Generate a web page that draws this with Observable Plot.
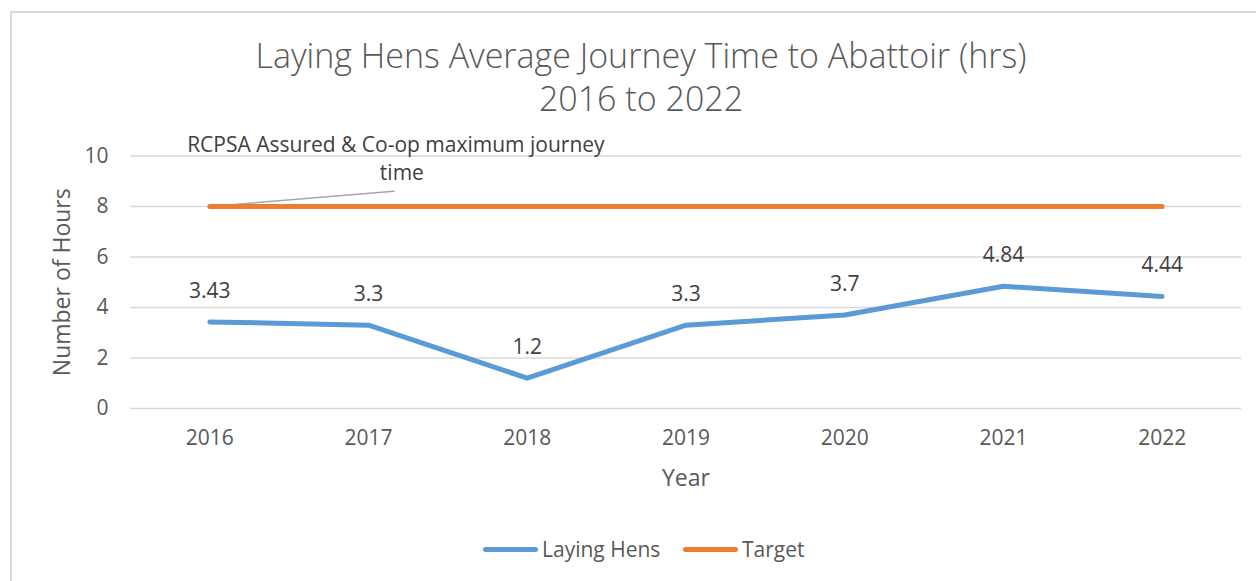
<!DOCTYPE html>
<html>
<head>
<meta charset="utf-8">
<script src="https://cdn.jsdelivr.net/npm/d3@7"></script>
<script src="https://cdn.jsdelivr.net/npm/@observablehq/plot@0.6"></script>
<style>
  html, body { margin: 0; padding: 0; background: #fff; }
  #wrap { position: relative; width: 1256px; height: 581px; overflow: hidden; font-family: "Open Sans", sans-serif; }
  #frame { position: absolute; left: 10px; top: 11px; width: 1260px; height: 590px; border: 2px solid #d9d9d9; box-sizing: border-box; }
  #chart { position: absolute; left: 0; top: 0; }
  .title { position: absolute; left: 0; width: 1282px; text-align: center; font-size: 34px; font-weight: 300; color: #595959; line-height: 1; }
  #legend { position: absolute; top: 535px; left: 0; width: 1256px; font-size: 21px; color: #595959; }
  .item { position: absolute; display: flex; align-items: center; }
  .swatch { width: 55px; height: 5px; border-radius: 3px; margin-right: 4px; }
</style>
</head>
<body>
<div id="wrap">
  <div id="frame"></div>
  <div id="chart"></div>
  <div class="title" id="t1" style="top:38px"></div>
  <div class="title" id="t2" style="top:81px"></div>
  <div id="legend"></div>
</div>
<script>
const titleLines = ["Laying Hens Average Journey Time to Abattoir (hrs)", "2016 to 2022"];
const years = [2016, 2017, 2018, 2019, 2020, 2021, 2022];
const layingHens = [3.43, 3.3, 1.2, 3.3, 3.7, 4.84, 4.44];
const target = [8, 8, 8, 8, 8, 8, 8];
const yTicks = [0, 2, 4, 6, 8, 10];
const seriesNames = ["Laying Hens", "Target"];
const seriesColors = ["#5B9BD5", "#ED7D31"];
const annotationLines = ["RCPSA Assured & Co-op maximum journey", "time"];
const leader = [{x: 2016, y: 8}, {x: 2017.16, y: 8.6}];
const xLabel = "Year";
const yLabel = "Number of Hours";

document.getElementById("t1").textContent = titleLines[0];
document.getElementById("t2").textContent = titleLines[1];

const hens = years.map((yr, i) => ({year: yr, value: layingHens[i]}));
const tgt = years.map((yr, i) => ({year: yr, value: target[i]}));

const chart = Plot.plot({
  width: 1256,
  height: 581,
  marginLeft: 130,
  marginRight: 15,
  marginTop: 155.5,
  marginBottom: 173,
  style: {fontFamily: "'Open Sans', sans-serif", fontSize: "21px", color: "#595959", background: "transparent"},
  x: {domain: [2015.5, 2022.5], label: null},
  y: {domain: [0, 10], label: null},
  marks: [
    Plot.ruleY(yTicks, {stroke: "#d9d9d9", strokeWidth: 1.5}),
    Plot.axisX({ticks: years, tickFormat: d => String(d), tickSize: 0, tickPadding: 22, label: null, fill: "#595959", fontSize: 21}),
    Plot.axisY({ticks: yTicks, tickSize: 0, tickPadding: 22, label: null, fill: "#595959", fontSize: 21}),
    Plot.line(leader, {x: "x", y: "y", stroke: "#a6a6a6", strokeWidth: 1.5}),
    Plot.line(tgt, {x: "year", y: "value", stroke: seriesColors[1], strokeWidth: 5, strokeLinecap: "round"}),
    Plot.line(hens, {x: "year", y: "value", stroke: seriesColors[0], strokeWidth: 5, strokeLinecap: "round", strokeLinejoin: "round"}),
    Plot.text(hens, {x: "year", y: "value", text: d => String(d.value), dy: -31, fill: "#404040", fontSize: 21}),
    Plot.text([annotationLines[0]], {x: () => 2016, y: () => 10, text: d => d, dx: 186, dy: -11, fill: "#404040", fontSize: 21}),
    Plot.text([annotationLines[1]], {x: () => 2016, y: () => 10, text: d => d, dx: 192, dy: 17, fill: "#404040", fontSize: 21}),
    Plot.text([xLabel], {frameAnchor: "bottom", text: d => d, dy: 77, fill: "#595959", fontSize: 23}),
    Plot.text([yLabel], {frameAnchor: "left", textAnchor: "middle", text: d => d, dx: -68, rotate: -90, fill: "#595959", fontSize: 23})
  ]
});
document.getElementById("chart").appendChild(chart);

const legend = document.getElementById("legend");
const legendLeft = [483, 683];
seriesNames.forEach((name, i) => {
  const it = document.createElement("div");
  it.className = "item";
  it.style.left = legendLeft[i] + "px";
  const sw = document.createElement("span");
  sw.className = "swatch";
  sw.style.background = seriesColors[i];
  const tx = document.createElement("span");
  tx.textContent = name;
  it.appendChild(sw);
  it.appendChild(tx);
  legend.appendChild(it);
});
</script>
</body>
</html>
